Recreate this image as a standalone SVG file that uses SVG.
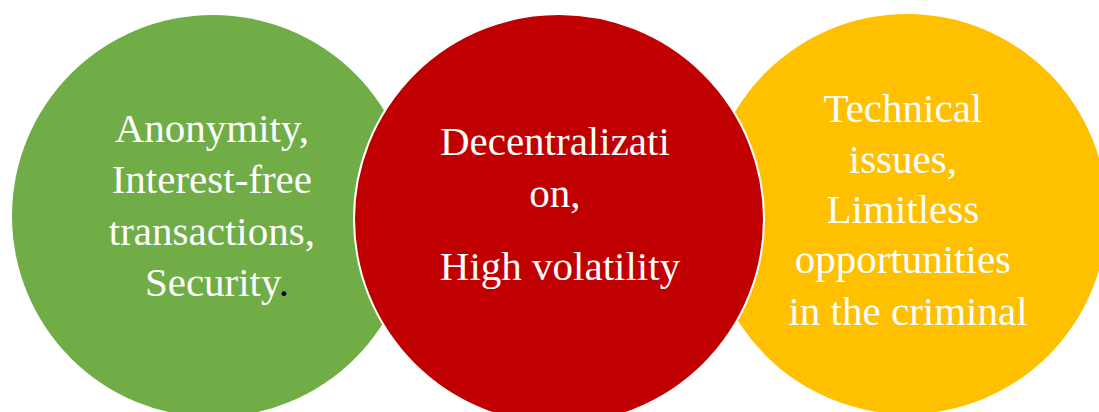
<svg xmlns="http://www.w3.org/2000/svg" width="1099" height="412" viewBox="0 0 1099 412">
  <style>
    .label { font-family: "Liberation Serif", "Times New Roman", serif; font-size: 41px; fill: #ffffff; text-anchor: middle; }
    .dot { fill: #000000; }
  </style>
  <rect width="1099" height="412" fill="#ffffff"/>
  <!-- right circle (drawn first, sits under the middle one) -->
  <g id="node-technical">
    <circle cx="907" cy="214" r="200" fill="#FFC000"/>
    <text class="label">
      <tspan x="908" y="122">Technical</tspan>
      <tspan x="908" y="173">issues,</tspan>
      <tspan x="908" y="223">Limitless</tspan>
      <tspan x="908" y="273">opportunities</tspan>
      <tspan x="908" y="325">in the criminal</tspan>
    </text>
  </g>
  <!-- left circle -->
  <g id="node-anonymity">
    <circle cx="213" cy="216" r="201" fill="#70AD47"/>
    <text class="label">
      <tspan x="217" y="142">Anonymity,</tspan>
      <tspan x="217" y="193">Interest-free</tspan>
      <tspan x="217" y="245">transactions,</tspan>
      <tspan x="217" y="296">Security<tspan class="dot">.</tspan></tspan>
    </text>
  </g>
  <!-- middle circle, on top with a white rim -->
  <g id="node-decentralization">
    <circle cx="559" cy="219" r="205" fill="#C00000" stroke="#ffffff" stroke-width="2"/>
    <text class="label">
      <tspan x="560" y="155">Decentralizati</tspan>
      <tspan x="560" y="207">on,</tspan>
      <tspan x="560" y="280">High volatility</tspan>
    </text>
  </g>
  <g id="connectors"/>
</svg>
